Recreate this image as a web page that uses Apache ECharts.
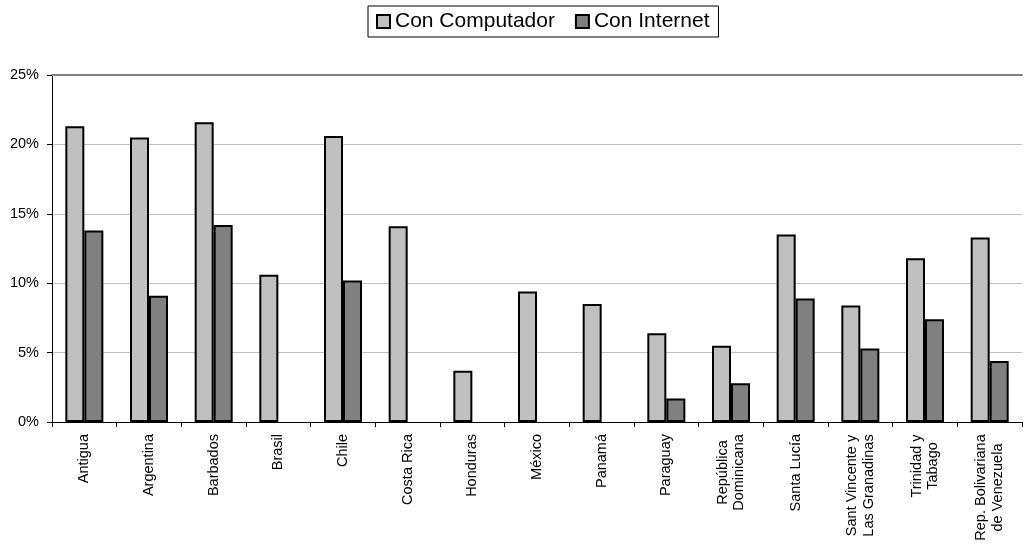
<!DOCTYPE html>
<html><head><meta charset="utf-8">
<script src="https://cdn.jsdelivr.net/npm/echarts@6/dist/echarts.min.js"></script>
<style>html,body{margin:0;padding:0;background:#fff}#c{width:1028px;height:548px}</style>
</head><body><div id="c"></div>
<script>
const categories = ['Antigua','Argentina','Barbados','Brasil','Chile','Costa Rica','Honduras','México','Panamá','Paraguay','República\nDominicana','Santa Lucía','Sant Vincente y\nLas Granadinas','Trinidad y\nTabago','Rep. Bolivariana\nde Venezuela'];
const conComputador = [21.3,20.5,21.6,10.6,20.6,14.1,3.7,9.4,8.5,6.4,5.5,13.5,8.4,11.8,13.3];
const conInternet = [13.8,9.1,14.2,null,10.2,null,null,null,null,1.7,2.8,8.9,5.3,7.4,4.4];
const seriesNames = ['Con Computador','Con Internet'];
const yMin = 0, yMax = 25, yStep = 5;

const font = '"Liberation Sans", Arial, sans-serif';
const labelSize = 14.5;
// measure multi-line labels so that their lines can be centred on each other
const cv = document.createElement('canvas').getContext('2d');
cv.font = labelSize + 'px ' + font;
const rich = {};
const keyOf = {};
categories.forEach((c, i) => {
  const lines = c.split('\n');
  if (lines.length > 1) {
    const w = Math.ceil(Math.max(...lines.map(l => cv.measureText(l).width)));
    rich['w' + i] = {width: w, align: 'center', fontFamily: font, fontSize: labelSize, color: '#000', lineHeight: 16.5};
    keyOf[c] = 'w' + i;
  }
});

const chart = echarts.init(document.getElementById('c'), null, {renderer:'canvas'});
chart.setOption({
  animation:false,
  backgroundColor:'#fff',
  legend:{
    left:368, top:6,
    padding:[5,9,5,8],
    borderColor:'#000', borderWidth:1,
    itemWidth:13, itemHeight:13, itemGap:20,
    icon:'rect',
    textStyle:{fontFamily:font, fontSize:21, color:'#000'},
    data:seriesNames
  },
  grid:{left:52, right:6, top:75, bottom:126, containLabel:false},
  xAxis:[{
    type:'category', data:categories,
    axisLine:{lineStyle:{color:'#000', width:1}},
    axisTick:{show:true, length:5, lineStyle:{color:'#000'}},
    axisLabel:{
      rotate:90, interval:0, margin:12, fontFamily:font, fontSize:labelSize, color:'#000', lineHeight:16.5,
      formatter: v => keyOf[v] ? v.split('\n').map(l => '{' + keyOf[v] + '|' + l + '}').join('\n') : v,
      rich: rich
    },
    splitLine:{show:false}
  },{
    type:'category', data:categories, position:'top',
    axisLine:{show:true, lineStyle:{color:'#808080', width:2}},
    axisTick:{show:false}, axisLabel:{show:false}
  }],
  yAxis:{
    type:'value', min:yMin, max:yMax, interval:yStep,
    axisLine:{show:true, lineStyle:{color:'#000', width:1}},
    axisTick:{show:true, length:5, lineStyle:{color:'#000'}},
    axisLabel:{formatter:'{value}%', margin:13, fontFamily:font, fontSize:labelSize, color:'#000'},
    splitLine:{show:true, lineStyle:{color:'#c0c0c0', width:1}}
  },
  series:[{
    name:seriesNames[0], type:'bar', data:conComputador,
    barWidth:19, barGap:'0%',
    itemStyle:{color:'#c0c0c0', borderColor:'#000', borderWidth:2}
  },{
    name:seriesNames[1], type:'bar', data:conInternet,
    barWidth:19,
    itemStyle:{color:'#808080', borderColor:'#000', borderWidth:2}
  }]
});
</script></body></html>
